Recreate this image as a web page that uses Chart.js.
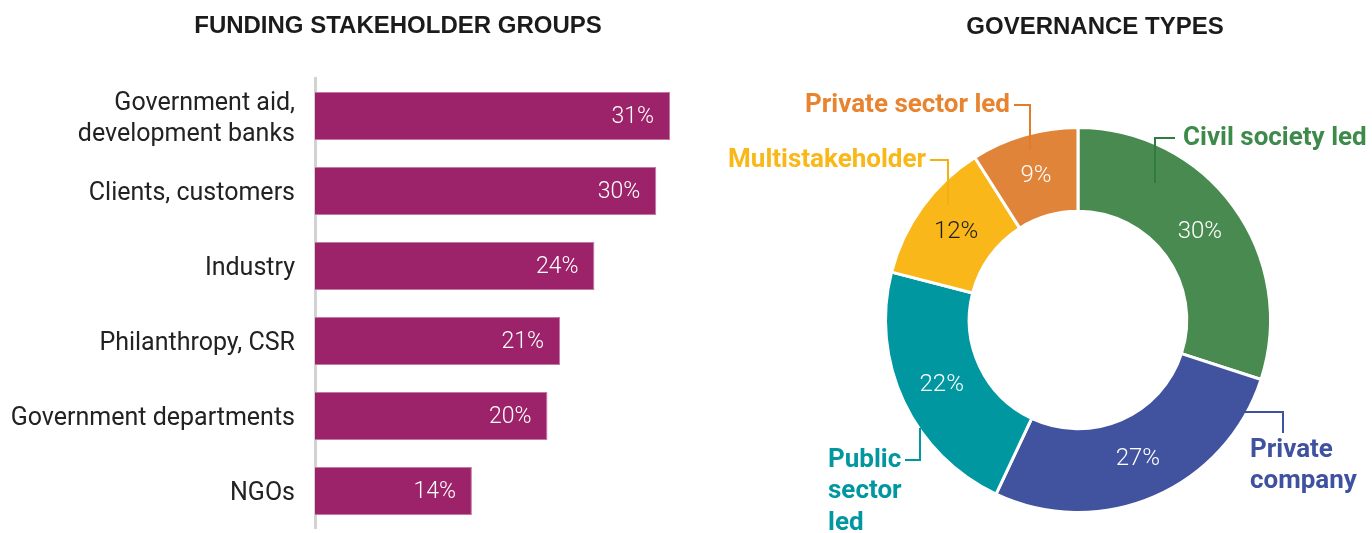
<!DOCTYPE html>
<html><head><meta charset="utf-8">
<script src="https://cdn.jsdelivr.net/npm/chart.js@4"></script>
<style>
html,body{margin:0;padding:0;background:#fff;overflow:hidden;width:1372px;height:533px}
#wrap{position:relative;width:1372px;height:533px}
#barWrap{position:absolute;left:0;top:0;width:796px;height:533px}
#donutWrap{position:absolute;left:700px;top:0;width:672px;height:533px}
</style></head><body>
<div id="wrap"><div id="barWrap"><canvas id="bar"></canvas></div><div id="donutWrap"><canvas id="donut"></canvas></div></div>
<script>
// ---- data ----
const barTitle = 'FUNDING STAKEHOLDER GROUPS';
const barCategories = [['Government aid,', 'development banks'], 'Clients, customers', 'Industry', 'Philanthropy, CSR', 'Government departments', 'NGOs'];
const barValues = [31.0, 29.8, 24.4, 21.4, 20.3, 13.7];
const barLabels = ['31%', '30%', '24%', '21%', '20%', '14%'];

const donutTitle = 'GOVERNANCE TYPES';
const donutCategories = ['Civil society led', 'Private company', 'Public sector led', 'Multistakeholder', 'Private sector led'];
const donutValues = [30, 27, 22, 12, 9];
const donutLabels = ['30%', '27%', '22%', '12%', '9%'];
const donutNameLines = [['Civil society led'], ['Private', 'company'], ['Public', 'sector', 'led'], ['Multistakeholder'], ['Private sector led']];

// ---- styles ----
const sliceColors = ['#488A4F', '#41539F', '#0097A1', '#F9B719', '#E0843A'];
const nameColors = ['#3D8A4B', '#3F52A0', '#0097A0', '#F9B718', '#E8832F'];
const lineColors = ['#2F7C41', '#3F52A0', '#0097A0', '#F4B010', '#E07C2A'];
const pctColors = ['#ffffff', '#ffffff', '#ffffff', '#1c1c1c', '#ffffff'];
// callout layout, offsets relative to donut centre
const callouts = [
  {path: [[77, -137], [77, -182], [97, -182]], tx: 105, ty: -182, align: 'left'},
  {path: [[160, 92], [205, 92], [205, 113]], tx: 172, ty: 130, align: 'left'},
  {path: [[-158, 108], [-158, 140], [-173, 140]], tx: -250, ty: 140, align: 'left'},
  {path: [[-130, -115], [-130, -160], [-148, -160]], tx: -152, ty: -160, align: 'right'},
  {path: [[-48, -170], [-48, -215], [-64, -215]], tx: -68, ty: -215, align: 'right'}
];
const titleFont = '"Liberation Sans", Arial, sans-serif';

const barValuePlugin = {
  id: 'barValues',
  afterDatasetsDraw(chart) {
    const ctx = chart.ctx;
    const meta = chart.getDatasetMeta(0);
    ctx.save();
    ctx.font = '300 23px Roboto';
    ctx.fillStyle = '#ffffff';
    ctx.textAlign = 'right';
    ctx.textBaseline = 'middle';
    meta.data.forEach((bar, i) => ctx.fillText(barLabels[i], bar.x - 16, bar.y + 1));
    ctx.restore();
  }
};

new Chart(document.getElementById('bar'), {
  type: 'bar',
  data: {labels: barCategories, datasets: [{data: barValues, backgroundColor: '#9C2269', borderColor: '#C27AA4', borderWidth: 1, categoryPercentage: 0.8, barPercentage: 0.8}]},
  options: {
    indexAxis: 'y', responsive: true, maintainAspectRatio: false, animation: false, devicePixelRatio: 1,
    layout: {padding: {left: 0, right: 0, top: 0, bottom: 4.5}},
    plugins: {
      legend: {display: false}, tooltip: {enabled: false},
      title: {display: true, text: barTitle, color: '#1b1b1b', font: {family: titleFont, size: 24, weight: 'bold', lineHeight: 1.2}, padding: {top: 12, bottom: 37.7}}
    },
    scales: {
      x: {display: false, min: 0, max: 42},
      y: {
        grid: {display: false},
        border: {display: true, color: '#d2d2d2', width: 3},
        ticks: {color: '#222222', padding: 12, labelOffset: 3, font: {family: 'Roboto', size: 25, lineHeight: 1.24}},
        afterFit(s) { s.width = 315; s.paddingTop = 0; s.paddingBottom = 0; }
      }
    }
  },
  plugins: [barValuePlugin]
});

const donutPlugin = {
  id: 'donutDecor',
  afterDatasetsDraw(chart) {
    const ctx = chart.ctx;
    const meta = chart.getDatasetMeta(0);
    const cx = meta.data[0].x, cy = meta.data[0].y;
    ctx.save();
    // title
    ctx.font = 'bold 24px ' + titleFont;
    ctx.fillStyle = '#1b1b1b';
    ctx.textAlign = 'center';
    ctx.textBaseline = 'middle';
    ctx.fillText(donutTitle, 395, 27);
    // percentages
    ctx.font = '300 24px Roboto';
    meta.data.forEach((arc, i) => {
      const p = arc.getCenterPoint();
      ctx.fillStyle = pctColors[i];
      ctx.fillText(donutLabels[i], p.x, p.y + 1);
    });
    // callouts
    callouts.forEach((c, i) => {
      ctx.strokeStyle = lineColors[i];
      ctx.lineWidth = 2;
      ctx.beginPath();
      c.path.forEach((pt, k) => k ? ctx.lineTo(cx + pt[0], cy + pt[1]) : ctx.moveTo(cx + pt[0], cy + pt[1]));
      ctx.stroke();
      ctx.font = 'bold 26px Roboto';
      ctx.fillStyle = nameColors[i];
      ctx.textAlign = c.align;
      donutNameLines[i].forEach((line, k) => ctx.fillText(line, cx + c.tx, cy + c.ty + k * 31.5));
    });
    ctx.restore();
  }
};

new Chart(document.getElementById('donut'), {
  type: 'doughnut',
  data: {labels: donutCategories, datasets: [{data: donutValues, backgroundColor: sliceColors, borderColor: '#ffffff', borderWidth: 3}]},
  options: {
    responsive: true, maintainAspectRatio: false, animation: false, devicePixelRatio: 1,
    cutout: '56.5%', rotation: 0,
    layout: {padding: {left: 184, right: 100, top: 126, bottom: 19}},
    plugins: {legend: {display: false}, tooltip: {enabled: false}, title: {display: false}}
  },
  plugins: [donutPlugin]
});
</script>
</body></html>
